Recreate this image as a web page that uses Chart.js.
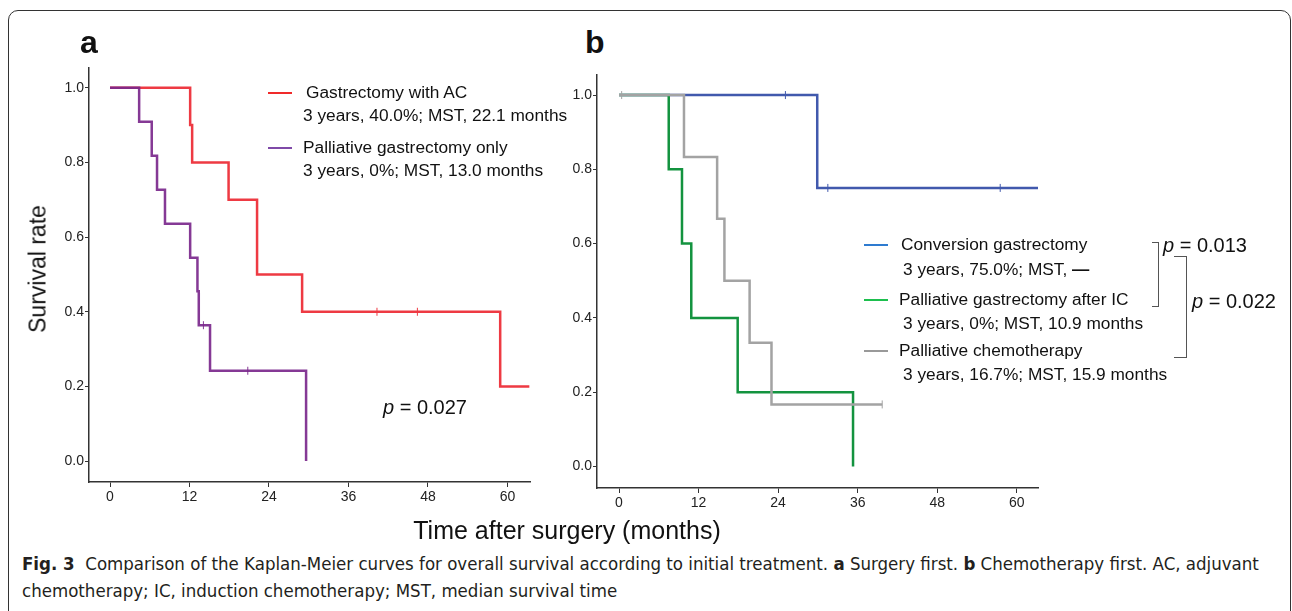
<!DOCTYPE html>
<html>
<head>
<meta charset="utf-8">
<script src="https://cdn.jsdelivr.net/npm/chart.js@4.4.1/dist/chart.umd.min.js"></script>
<style>
  body { margin: 0; background: #fff; font-family: 'Liberation Sans', Arial, sans-serif; color: #111; }
  #page { position: relative; width: 1292px; height: 611px; overflow: hidden; }
  #frame { position: absolute; left: 8px; top: 10px; width: 1281px; height: 640px;
           border: 1px solid #333; border-radius: 10px; }
  canvas { position: absolute; }
  .t { position: absolute; white-space: nowrap; line-height: 1; }
  .leg { font-size: 17.3px; transform: translateY(-50%); }
  .sw { position: absolute; width: 24px; height: 2px; }
  .br { position: absolute; border: 1px solid #555; border-left: none; }
  .cap { font-family: 'Liberation Sans Narrow', 'DejaVu Sans Condensed', sans-serif; font-size: 18.5px; color: #231f20; }
</style>
</head>
<body>
<div id="page">
  <div id="frame"></div>
  <canvas id="chart-a" width="500" height="460" style="left:39px; top:58px;"></canvas>
  <canvas id="chart-b" width="500" height="460" style="left:547px; top:65px;"></canvas>

  <div class="t" style="left:80px; top:26px; font-size:32px; font-weight:bold;">a</div>
  <div class="t" style="left:585px; top:26px; font-size:32px; font-weight:bold;">b</div>

  <div class="t" style="left:38px; top:269px; font-size:23px; transform: translate(-50%,-50%) rotate(-90deg);">Survival rate</div>
  <div class="t" style="left:567px; top:530px; font-size:25px; transform: translate(-50%,-50%);">Time after surgery (months)</div>

  <!-- legend a -->
  <div class="sw" style="left:268px; top:92px; background:#f02a2a;"></div>
  <div class="t leg" style="left:306px; top:93px;">Gastrectomy with AC</div>
  <div class="t leg" style="left:303px; top:116px;">3 years, 40.0%; MST, 22.1 months</div>
  <div class="sw" style="left:268px; top:147px; background:#7f4aa8;"></div>
  <div class="t leg" style="left:303px; top:148px;">Palliative gastrectomy only</div>
  <div class="t leg" style="left:303px; top:171px;">3 years, 0%; MST, 13.0 months</div>
  <div class="t leg" style="left:383px; top:407px; font-size:20px;"><i>p</i> = 0.027</div>

  <!-- legend b -->
  <div class="sw" style="left:864px; top:244px; background:#2e7bd0;"></div>
  <div class="t leg" style="left:901px; top:245px;">Conversion gastrectomy</div>
  <div class="t leg" style="left:903px; top:270px;">3 years, 75.0%; MST, <b>&mdash;</b></div>
  <div class="sw" style="left:864px; top:299px; background:#1dbf4e;"></div>
  <div class="t leg" style="left:899px; top:300px;">Palliative gastrectomy after IC</div>
  <div class="t leg" style="left:903px; top:324px;">3 years, 0%; MST, 10.9 months</div>
  <div class="sw" style="left:864px; top:350px; background:#999;"></div>
  <div class="t leg" style="left:899px; top:351px;">Palliative chemotherapy</div>
  <div class="t leg" style="left:903px; top:375px;">3 years, 16.7%; MST, 15.9 months</div>

  <div class="br" style="left:1152px; top:242px; width:6px; height:63px;"></div>
  <div class="t leg" style="left:1163px; top:245px; font-size:20px;"><i>p</i> = 0.013</div>
  <div class="br" style="left:1174px; top:256px; width:12px; height:100px;"></div>
  <div class="t leg" style="left:1192px; top:301px; font-size:20px;"><i>p</i> = 0.022</div>

  <div class="t cap" style="left:22px; top:555px;"><b>Fig. 3</b>&nbsp; Comparison of the Kaplan-Meier curves for overall survival according to initial treatment. <b>a</b> Surgery first. <b>b</b> Chemotherapy first. AC, adjuvant</div>
  <div class="t cap" style="left:22px; top:582px;">chemotherapy; IC, induction chemotherapy; MST, median survival time</div>
</div>

<script>
// tick labels
const xTickValues = [0, 12, 24, 36, 48, 60];
const yTickValues = [0.0, 0.2, 0.4, 0.6, 0.8, 1.0];

// panel a: surgery first
const acTimes = [0, 12.1, 12.4, 17.9, 22.2, 29.0, 58.9, 63.3];
const acSurv = [1.0, 0.9, 0.8, 0.7, 0.5, 0.4, 0.2, 0.2];
const acCensored = [40.3, 46.4];

const palTimes = [0, 4.4, 6.3, 7.1, 8.3, 12.1, 13.2, 13.4, 15.1, 29.6];
const palSurv = [1.0, 0.909, 0.818, 0.727, 0.636, 0.545, 0.455, 0.364, 0.242, 0.0];
const palCensored = [14.1, 20.8];

// panel b: chemotherapy first
const convTimes = [0, 29.9, 63.2];
const convSurv = [1.0, 0.75, 0.75];
const convCensored = [25.1, 31.5, 57.5];

const icTimes = [0, 7.5, 9.5, 10.9, 17.9, 35.3];
const icSurv = [1.0, 0.8, 0.6, 0.4, 0.2, 0.0];
const icCensored = [];

const chemoTimes = [0, 9.8, 14.8, 15.9, 19.7, 23.0, 39.7];
const chemoSurv = [1.0, 0.833, 0.667, 0.5, 0.333, 0.167, 0.167];
const chemoCensored = [0.4, 39.7];


function survAt(times, surv, t) {
    let s = surv[0];
    for (let i = 0; i < times.length; i++) {
        if (times[i] <= t) s = surv[i];
    }
    return s;
}


function curveDatasets(times, surv, censored, color) {
    return [{
        data: times.map((t, i) => ({ x: t, y: surv[i] })),
        showLine: true,
        stepped: true,
        borderColor: color,
        borderWidth: 2.5,
        pointRadius: 0,
        clip: false
    }, {
        data: censored.map(t => ({ x: t, y: survAt(times, surv, t) })),
        showLine: false,
        pointStyle: 'line',
        rotation: 90,
        pointRadius: 4,
        borderColor: color,
        borderWidth: 1,
        clip: false
    }];
}


function makeChart(id, datasets, xRange, yRange, xAxisHeight) {
    const ctx = document.getElementById(id).getContext('2d');
    const tickFont = { family: "'Liberation Sans', Arial, sans-serif", size: 14 };
    return new Chart(ctx, {
        type: 'scatter',
        data: { datasets: datasets },
        options: {
            responsive: false,
            animation: false,
            events: [],
            layout: { padding: { top: 10, right: 9, left: 0, bottom: 0 } },
            scales: {
                x: {
                    min: xRange[0],
                    max: xRange[1],
                    afterBuildTicks: s => { s.ticks = xTickValues.map(v => ({ value: v })); },
                    afterFit: s => { s.height = xAxisHeight; },
                    ticks: { font: tickFont, color: '#222', padding: 2, maxRotation: 0 },
                    grid: { drawOnChartArea: false, drawTicks: true, tickLength: 5, color: '#333' },
                    border: { display: true, color: '#333', width: 1.5 }
                },
                y: {
                    min: yRange[0],
                    max: yRange[1],
                    afterBuildTicks: s => { s.ticks = yTickValues.map(v => ({ value: v })); },
                    afterFit: s => { s.width = 50; },
                    ticks: { font: tickFont, color: '#222', padding: 1, callback: v => v.toFixed(1) },
                    grid: { drawOnChartArea: false, drawTicks: true, tickLength: 4, color: '#333' },
                    border: { display: true, color: '#333', width: 1.5 }
                }
            },
            plugins: {
                legend: { display: false },
                tooltip: { enabled: false }
            }
        }
    });
}


document.addEventListener('DOMContentLoaded', function() {
    makeChart('chart-a', [
        ...curveDatasets(palTimes, palSurv, palCensored, 'rgba(123,40,140,0.92)'),
        ...curveDatasets(acTimes, acSurv, acCensored, '#ee3a43')
    ], [-3.17, 63.4], [-0.056, 1.053], 36);

    makeChart('chart-b', [
        ...curveDatasets(chemoTimes, chemoSurv, chemoCensored, '#a3a3a3'),
        ...curveDatasets(icTimes, icSurv, icCensored, '#13933f'),
        ...curveDatasets(convTimes, convSurv, convCensored, '#4159ad')
    ], [-3.32, 63.2], [-0.058, 1.054], 37);
});
</script>
</body>
</html>
